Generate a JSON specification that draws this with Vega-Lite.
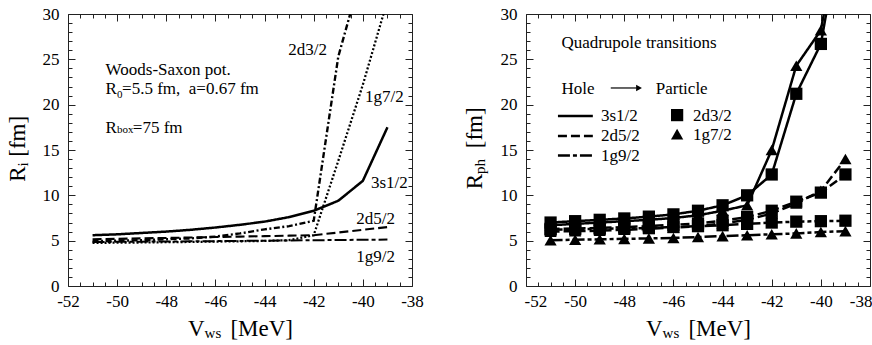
{
"$schema":"https://vega.github.io/schema/vega-lite/v6.json",
"padding":{"left":7,"top":5,"right":12,"bottom":0},
"spacing":39,
"config":{
 "view":{"stroke":null},
 "font":"Liberation Serif, Times New Roman, Times, serif",
 "axis":{"labelFont":"Liberation Serif, Times New Roman, Times, serif","labelFontSize":17,"labelColor":"black","domainColor":"#222","tickColor":"#222","domainWidth":1,"tickWidth":1,"grid":false},
 "text":{"font":"Liberation Serif, Times New Roman, Times, serif","color":"black"}
},
"datasets":{
 "L":[
  {"x":-51,"y":5.6,"s":"3s1/2"},{"x":-50,"y":5.7,"s":"3s1/2"},{"x":-49,"y":5.85,"s":"3s1/2"},{"x":-48,"y":6.0,"s":"3s1/2"},{"x":-47,"y":6.2,"s":"3s1/2"},{"x":-46,"y":6.45,"s":"3s1/2"},{"x":-45,"y":6.75,"s":"3s1/2"},{"x":-44,"y":7.1,"s":"3s1/2"},{"x":-43,"y":7.6,"s":"3s1/2"},{"x":-42,"y":8.3,"s":"3s1/2"},{"x":-41,"y":9.4,"s":"3s1/2"},{"x":-40,"y":11.6,"s":"3s1/2"},{"x":-39,"y":17.5,"s":"3s1/2"},
  {"x":-51,"y":4.95,"s":"2d3/2"},{"x":-50,"y":5.0,"s":"2d3/2"},{"x":-49,"y":5.05,"s":"2d3/2"},{"x":-48,"y":5.15,"s":"2d3/2"},{"x":-47,"y":5.25,"s":"2d3/2"},{"x":-46,"y":5.45,"s":"2d3/2"},{"x":-45,"y":5.8,"s":"2d3/2"},{"x":-44,"y":6.25,"s":"2d3/2"},{"x":-43,"y":6.6,"s":"2d3/2"},{"x":-42,"y":7.2,"s":"2d3/2"},{"x":-41,"y":25.3,"s":"2d3/2"},{"x":-40,"y":35,"s":"2d3/2"},
  {"x":-51,"y":4.75,"s":"1g7/2"},{"x":-50,"y":4.78,"s":"1g7/2"},{"x":-49,"y":4.8,"s":"1g7/2"},{"x":-48,"y":4.83,"s":"1g7/2"},{"x":-47,"y":4.86,"s":"1g7/2"},{"x":-46,"y":4.9,"s":"1g7/2"},{"x":-45,"y":4.93,"s":"1g7/2"},{"x":-44,"y":4.97,"s":"1g7/2"},{"x":-43,"y":5.05,"s":"1g7/2"},{"x":-42,"y":5.6,"s":"1g7/2"},{"x":-41,"y":13.8,"s":"1g7/2"},{"x":-40,"y":22.2,"s":"1g7/2"},{"x":-39,"y":31.5,"s":"1g7/2"},
  {"x":-51,"y":5.15,"s":"2d5/2"},{"x":-50,"y":5.2,"s":"2d5/2"},{"x":-49,"y":5.25,"s":"2d5/2"},{"x":-48,"y":5.3,"s":"2d5/2"},{"x":-47,"y":5.35,"s":"2d5/2"},{"x":-46,"y":5.4,"s":"2d5/2"},{"x":-45,"y":5.45,"s":"2d5/2"},{"x":-44,"y":5.5,"s":"2d5/2"},{"x":-43,"y":5.55,"s":"2d5/2"},{"x":-42,"y":5.6,"s":"2d5/2"},{"x":-41,"y":5.9,"s":"2d5/2"},{"x":-40,"y":6.2,"s":"2d5/2"},{"x":-39,"y":6.5,"s":"2d5/2"},
  {"x":-51,"y":4.85,"s":"1g9/2"},{"x":-50,"y":4.87,"s":"1g9/2"},{"x":-49,"y":4.89,"s":"1g9/2"},{"x":-48,"y":4.91,"s":"1g9/2"},{"x":-47,"y":4.93,"s":"1g9/2"},{"x":-46,"y":4.95,"s":"1g9/2"},{"x":-45,"y":4.97,"s":"1g9/2"},{"x":-44,"y":5.0,"s":"1g9/2"},{"x":-43,"y":5.02,"s":"1g9/2"},{"x":-42,"y":5.05,"s":"1g9/2"},{"x":-41,"y":5.07,"s":"1g9/2"},{"x":-40,"y":5.1,"s":"1g9/2"},{"x":-39,"y":5.12,"s":"1g9/2"}
 ],
 "R":[
  {"x":-51,"y":7.0,"h":"3s1/2","p":"2d3/2"},{"x":-50,"y":7.15,"h":"3s1/2","p":"2d3/2"},{"x":-49,"y":7.3,"h":"3s1/2","p":"2d3/2"},{"x":-48,"y":7.45,"h":"3s1/2","p":"2d3/2"},{"x":-47,"y":7.65,"h":"3s1/2","p":"2d3/2"},{"x":-46,"y":7.9,"h":"3s1/2","p":"2d3/2"},{"x":-45,"y":8.3,"h":"3s1/2","p":"2d3/2"},{"x":-44,"y":8.9,"h":"3s1/2","p":"2d3/2"},{"x":-43,"y":10.0,"h":"3s1/2","p":"2d3/2"},{"x":-42,"y":12.3,"h":"3s1/2","p":"2d3/2"},{"x":-41,"y":21.2,"h":"3s1/2","p":"2d3/2"},{"x":-40,"y":26.7,"h":"3s1/2","p":"2d3/2"},{"x":-39,"y":42,"h":"3s1/2","p":"2d3/2"},
  {"x":-51,"y":6.7,"h":"3s1/2","p":"1g7/2"},{"x":-50,"y":6.85,"h":"3s1/2","p":"1g7/2"},{"x":-49,"y":7.0,"h":"3s1/2","p":"1g7/2"},{"x":-48,"y":7.15,"h":"3s1/2","p":"1g7/2"},{"x":-47,"y":7.3,"h":"3s1/2","p":"1g7/2"},{"x":-46,"y":7.5,"h":"3s1/2","p":"1g7/2"},{"x":-45,"y":7.8,"h":"3s1/2","p":"1g7/2"},{"x":-44,"y":8.3,"h":"3s1/2","p":"1g7/2"},{"x":-43,"y":8.9,"h":"3s1/2","p":"1g7/2"},{"x":-42,"y":15.0,"h":"3s1/2","p":"1g7/2"},{"x":-41,"y":24.3,"h":"3s1/2","p":"1g7/2"},{"x":-40,"y":28.2,"h":"3s1/2","p":"1g7/2"},{"x":-39,"y":43,"h":"3s1/2","p":"1g7/2"},
  {"x":-51,"y":6.3,"h":"2d5/2","p":"2d3/2"},{"x":-50,"y":6.35,"h":"2d5/2","p":"2d3/2"},{"x":-49,"y":6.4,"h":"2d5/2","p":"2d3/2"},{"x":-48,"y":6.5,"h":"2d5/2","p":"2d3/2"},{"x":-47,"y":6.6,"h":"2d5/2","p":"2d3/2"},{"x":-46,"y":6.75,"h":"2d5/2","p":"2d3/2"},{"x":-45,"y":6.9,"h":"2d5/2","p":"2d3/2"},{"x":-44,"y":7.2,"h":"2d5/2","p":"2d3/2"},{"x":-43,"y":7.6,"h":"2d5/2","p":"2d3/2"},{"x":-42,"y":8.3,"h":"2d5/2","p":"2d3/2"},{"x":-41,"y":9.3,"h":"2d5/2","p":"2d3/2"},{"x":-40,"y":10.3,"h":"2d5/2","p":"2d3/2"},{"x":-39,"y":12.3,"h":"2d5/2","p":"2d3/2"},
  {"x":-51,"y":6.0,"h":"2d5/2","p":"1g7/2"},{"x":-50,"y":6.05,"h":"2d5/2","p":"1g7/2"},{"x":-49,"y":6.1,"h":"2d5/2","p":"1g7/2"},{"x":-48,"y":6.2,"h":"2d5/2","p":"1g7/2"},{"x":-47,"y":6.3,"h":"2d5/2","p":"1g7/2"},{"x":-46,"y":6.45,"h":"2d5/2","p":"1g7/2"},{"x":-45,"y":6.6,"h":"2d5/2","p":"1g7/2"},{"x":-44,"y":6.9,"h":"2d5/2","p":"1g7/2"},{"x":-43,"y":7.3,"h":"2d5/2","p":"1g7/2"},{"x":-42,"y":8.0,"h":"2d5/2","p":"1g7/2"},{"x":-41,"y":9.1,"h":"2d5/2","p":"1g7/2"},{"x":-40,"y":10.5,"h":"2d5/2","p":"1g7/2"},{"x":-39,"y":14.0,"h":"2d5/2","p":"1g7/2"},
  {"x":-51,"y":6.2,"h":"1g9/2","p":"2d3/2"},{"x":-50,"y":6.25,"h":"1g9/2","p":"2d3/2"},{"x":-49,"y":6.3,"h":"1g9/2","p":"2d3/2"},{"x":-48,"y":6.35,"h":"1g9/2","p":"2d3/2"},{"x":-47,"y":6.4,"h":"1g9/2","p":"2d3/2"},{"x":-46,"y":6.5,"h":"1g9/2","p":"2d3/2"},{"x":-45,"y":6.6,"h":"1g9/2","p":"2d3/2"},{"x":-44,"y":6.7,"h":"1g9/2","p":"2d3/2"},{"x":-43,"y":6.85,"h":"1g9/2","p":"2d3/2"},{"x":-42,"y":7.0,"h":"1g9/2","p":"2d3/2"},{"x":-41,"y":7.1,"h":"1g9/2","p":"2d3/2"},{"x":-40,"y":7.15,"h":"1g9/2","p":"2d3/2"},{"x":-39,"y":7.2,"h":"1g9/2","p":"2d3/2"},
  {"x":-51,"y":5.05,"h":"1g9/2","p":"1g7/2"},{"x":-50,"y":5.1,"h":"1g9/2","p":"1g7/2"},{"x":-49,"y":5.15,"h":"1g9/2","p":"1g7/2"},{"x":-48,"y":5.2,"h":"1g9/2","p":"1g7/2"},{"x":-47,"y":5.25,"h":"1g9/2","p":"1g7/2"},{"x":-46,"y":5.3,"h":"1g9/2","p":"1g7/2"},{"x":-45,"y":5.4,"h":"1g9/2","p":"1g7/2"},{"x":-44,"y":5.5,"h":"1g9/2","p":"1g7/2"},{"x":-43,"y":5.6,"h":"1g9/2","p":"1g7/2"},{"x":-42,"y":5.7,"h":"1g9/2","p":"1g7/2"},{"x":-41,"y":5.8,"h":"1g9/2","p":"1g7/2"},{"x":-40,"y":5.95,"h":"1g9/2","p":"1g7/2"},{"x":-39,"y":6.05,"h":"1g9/2","p":"1g7/2"}
 ],
 "Llab":[{"x":-42.25,"y":26.05,"t":"2d3/2"},{"x":-39.12,"y":20.84,"t":"1g7/2"},{"x":-38.92,"y":11.36,"t":"3s1/2"},{"x":-39.48,"y":7.39,"t":"2d5/2"},{"x":-39.48,"y":3.23,"t":"1g9/2"}],
 "Lnote":[{"x":-50.47,"y":23.24,"t":"Woods-Saxon pot."},{"x":-50.47,"y":21.13,"t":"R"},{"x":-49.8,"y":21.13,"t":"=5.5 fm,\u00a0 a=0.67 fm"},{"x":-50.47,"y":16.92,"t":"R"},{"x":-49.36,"y":16.92,"t":"=75 fm"}],
 "Lsub":[{"x":-50.01,"y":20.75,"t":"0"},{"x":-50.01,"y":16.85,"t":"box"}],
 "Xbig":[{"x":-47.12,"y":-5.55,"t":"V"},{"x":-45.39,"y":-5.55,"t":"[MeV]"}],
 "Xsub":[{"x":-46.44,"y":-5.77,"t":"ws"}],
 "LYbig":[{"x":-53.75,"y":11.5,"t":"R"},{"x":-53.75,"y":14.26,"t":"[fm]"}],
 "LYsub":[{"x":-53.63,"y":13.19,"t":"i"}],
 "RYbig":[{"x":-53.8,"y":10.66,"t":"R"},{"x":-53.8,"y":15.19,"t":"[fm]"}],
 "RYsub":[{"x":-53.67,"y":12.35,"t":"ph"}],
 "Rnote":[{"x":-50.56,"y":26.27,"t":"Quadrupole transitions"},{"x":-50.56,"y":21.2,"t":"Hole"},{"x":-46.72,"y":21.2,"t":"Particle"}],
 "Rleg":[{"x":-48.95,"y":18.72,"t":"3s1/2"},{"x":-48.95,"y":16.52,"t":"2d5/2"},{"x":-48.95,"y":14.39,"t":"1g9/2"},{"x":-45.2,"y":18.8,"t":"2d3/2"},{"x":-45.2,"y":16.7,"t":"1g7/2"}],
 "RlegLine":[{"x":-50.7,"x2":-49.28,"y":18.75,"h":"3s1/2"},{"x":-50.7,"x2":-49.28,"y":16.54,"h":"2d5/2"},{"x":-50.7,"x2":-49.28,"y":14.39,"h":"1g9/2"}],
 "RlegPt":[{"x":-45.85,"y":18.85,"p":"2d3/2"},{"x":-45.85,"y":16.75,"p":"1g7/2"}],
 "Arrow":[{"x":-48.55,"x2":-47.5,"y":21.84}],
 "ArrowHead":[{"x":-47.4,"y":21.84}]
},
"hconcat":[
 {
  "width":344,"height":272,
  "resolve":{"axis":{"x":"independent","y":"independent"}},
  "layer":[
   {"data":{"name":"L"},"mark":{"type":"line","clip":true,"color":"black"},
    "encoding":{
     "x":{"field":"x","type":"quantitative","scale":{"domain":[-52,-38],"nice":false,"zero":false},
      "axis":{"orient":"bottom","title":null,"values":[-52,-51.5,-51,-50.5,-50,-49.5,-49,-48.5,-48,-47.5,-47,-46.5,-46,-45.5,-45,-44.5,-44,-43.5,-43,-42.5,-42,-41.5,-41,-40.5,-40,-39.5,-39,-38.5,-38],"labelExpr":"datum.value % 2 == 0 ? '' + datum.value : ''","tickSize":{"condition":{"test":"datum.value % 2 == 0","value":-7},"value":-4},"labelPadding":14,"labelOverlap":false,"labelFlush":false,"labelBound":false}},
     "y":{"field":"y","type":"quantitative","scale":{"domain":[0,30],"nice":false,"zero":false},
      "axis":{"orient":"left","title":null,"values":[0,1,2,3,4,5,6,7,8,9,10,11,12,13,14,15,16,17,18,19,20,21,22,23,24,25,26,27,28,29,30],"labelExpr":"datum.value % 5 == 0 ? '' + datum.value : ''","tickSize":{"condition":{"test":"datum.value % 5 == 0","value":-7},"value":-4},"labelPadding":16,"labelOverlap":false,"labelFlush":false,"labelBound":false}},
     "detail":{"field":"s"},
     "strokeDash":{"field":"s","type":"nominal","scale":{"domain":["3s1/2","2d3/2","1g7/2","2d5/2","1g9/2"],"range":[[1,0],[6,2.5,2,2.5],[2,2],[9,4],[12,3,4,3]]},"legend":null},
     "strokeWidth":{"field":"s","type":"ordinal","scale":{"domain":["3s1/2","2d3/2","1g7/2","2d5/2","1g9/2"],"range":[2.5,2,2,2,2]},"legend":null}
    }},
   {"data":{"name":"Llab"},"mark":{"type":"text","fontSize":17,"align":"center","baseline":"middle"},
    "encoding":{
     "x":{"field":"x","type":"quantitative","scale":{"domain":[-52,-38],"nice":false,"zero":false},
      "axis":{"orient":"top","title":null,"labels":false,"values":[-52,-51.5,-51,-50.5,-50,-49.5,-49,-48.5,-48,-47.5,-47,-46.5,-46,-45.5,-45,-44.5,-44,-43.5,-43,-42.5,-42,-41.5,-41,-40.5,-40,-39.5,-39,-38.5,-38],"tickSize":{"condition":{"test":"datum.value % 2 == 0","value":-7},"value":-4}}},
     "y":{"field":"y","type":"quantitative","scale":{"domain":[0,30],"nice":false,"zero":false},
      "axis":{"orient":"right","title":null,"labels":false,"values":[0,1,2,3,4,5,6,7,8,9,10,11,12,13,14,15,16,17,18,19,20,21,22,23,24,25,26,27,28,29,30],"tickSize":{"condition":{"test":"datum.value % 5 == 0","value":-7},"value":-4}}},
     "text":{"field":"t"}
    }},
   {"data":{"name":"Lnote"},"mark":{"type":"text","fontSize":17,"align":"left","baseline":"alphabetic"},
    "encoding":{"x":{"field":"x","type":"quantitative","scale":{"domain":[-52,-38]},"axis":null},"y":{"field":"y","type":"quantitative","scale":{"domain":[0,30]},"axis":null},"text":{"field":"t"}}},
   {"data":{"name":"Lsub"},"mark":{"type":"text","fontSize":11,"align":"left","baseline":"alphabetic"},
    "encoding":{"x":{"field":"x","type":"quantitative","scale":{"domain":[-52,-38]},"axis":null},"y":{"field":"y","type":"quantitative","scale":{"domain":[0,30]},"axis":null},"text":{"field":"t"}}},
   {"data":{"name":"Xbig"},"mark":{"type":"text","fontSize":23,"align":"left","baseline":"alphabetic"},
    "encoding":{"x":{"field":"x","type":"quantitative","scale":{"domain":[-52,-38]},"axis":null},"y":{"field":"y","type":"quantitative","scale":{"domain":[0,30]},"axis":null},"text":{"field":"t"}}},
   {"data":{"name":"Xsub"},"mark":{"type":"text","fontSize":15,"align":"left","baseline":"alphabetic"},
    "encoding":{"x":{"field":"x","type":"quantitative","scale":{"domain":[-52,-38]},"axis":null},"y":{"field":"y","type":"quantitative","scale":{"domain":[0,30]},"axis":null},"text":{"field":"t"}}},
   {"data":{"name":"LYbig"},"mark":{"type":"text","fontSize":23,"align":"left","baseline":"alphabetic","angle":270},
    "encoding":{"x":{"field":"x","type":"quantitative","scale":{"domain":[-52,-38]},"axis":null},"y":{"field":"y","type":"quantitative","scale":{"domain":[0,30]},"axis":null},"text":{"field":"t"}}},
   {"data":{"name":"LYsub"},"mark":{"type":"text","fontSize":15,"align":"left","baseline":"alphabetic","angle":270},
    "encoding":{"x":{"field":"x","type":"quantitative","scale":{"domain":[-52,-38]},"axis":null},"y":{"field":"y","type":"quantitative","scale":{"domain":[0,30]},"axis":null},"text":{"field":"t"}}}
  ]
 },
 {
  "width":344,"height":272,
  "resolve":{"axis":{"x":"independent","y":"independent"}},
  "layer":[
   {"data":{"name":"R"},"mark":{"type":"line","clip":true,"color":"black","strokeWidth":2.5},
    "encoding":{
     "x":{"field":"x","type":"quantitative","scale":{"domain":[-52,-38],"nice":false,"zero":false},
      "axis":{"orient":"bottom","title":null,"values":[-52,-51.5,-51,-50.5,-50,-49.5,-49,-48.5,-48,-47.5,-47,-46.5,-46,-45.5,-45,-44.5,-44,-43.5,-43,-42.5,-42,-41.5,-41,-40.5,-40,-39.5,-39,-38.5,-38],"labelExpr":"datum.value % 2 == 0 ? '' + datum.value : ''","tickSize":{"condition":{"test":"datum.value % 2 == 0","value":-7},"value":-4},"labelPadding":14,"labelOverlap":false,"labelFlush":true,"labelFlushOffset":2,"labelBound":false}},
     "y":{"field":"y","type":"quantitative","scale":{"domain":[0,30],"nice":false,"zero":false},
      "axis":{"orient":"left","title":null,"values":[0,1,2,3,4,5,6,7,8,9,10,11,12,13,14,15,16,17,18,19,20,21,22,23,24,25,26,27,28,29,30],"labelExpr":"datum.value % 5 == 0 ? '' + datum.value : ''","tickSize":{"condition":{"test":"datum.value % 5 == 0","value":-7},"value":-4},"labelPadding":16,"labelOverlap":false,"labelFlush":false,"labelBound":false}},
     "detail":[{"field":"h"},{"field":"p"}],
     "strokeDash":{"field":"h","type":"nominal","scale":{"domain":["3s1/2","2d5/2","1g9/2"],"range":[[1,0],[7,4],[10,3,3,3]]},"legend":null}
    }},
   {"data":{"name":"R"},"mark":{"type":"point","filled":true,"clip":true,"color":"black","opacity":1,"size":150},
    "encoding":{
     "x":{"field":"x","type":"quantitative","scale":{"domain":[-52,-38],"nice":false,"zero":false},
      "axis":{"orient":"top","title":null,"labels":false,"values":[-52,-51.5,-51,-50.5,-50,-49.5,-49,-48.5,-48,-47.5,-47,-46.5,-46,-45.5,-45,-44.5,-44,-43.5,-43,-42.5,-42,-41.5,-41,-40.5,-40,-39.5,-39,-38.5,-38],"tickSize":{"condition":{"test":"datum.value % 2 == 0","value":-7},"value":-4}}},
     "y":{"field":"y","type":"quantitative","scale":{"domain":[0,30],"nice":false,"zero":false},
      "axis":{"orient":"right","title":null,"labels":false,"values":[0,1,2,3,4,5,6,7,8,9,10,11,12,13,14,15,16,17,18,19,20,21,22,23,24,25,26,27,28,29,30],"tickSize":{"condition":{"test":"datum.value % 5 == 0","value":-7},"value":-4}}},
     "shape":{"field":"p","type":"nominal","scale":{"domain":["2d3/2","1g7/2"],"range":["square","triangle-up"]},"legend":null}
    }},
   {"data":{"name":"RlegLine"},"mark":{"type":"rule","color":"black","strokeWidth":2.5},
    "encoding":{"x":{"field":"x","type":"quantitative","scale":{"domain":[-52,-38]},"axis":null},"x2":{"field":"x2"},"y":{"field":"y","type":"quantitative","scale":{"domain":[0,30]},"axis":null},
     "strokeDash":{"field":"h","type":"nominal","scale":{"domain":["3s1/2","2d5/2","1g9/2"],"range":[[1,0],[7,4],[10,3,3,3]]},"legend":null}}},
   {"data":{"name":"RlegPt"},"mark":{"type":"point","filled":true,"color":"black","opacity":1,"size":150},
    "encoding":{"x":{"field":"x","type":"quantitative","scale":{"domain":[-52,-38]},"axis":null},"y":{"field":"y","type":"quantitative","scale":{"domain":[0,30]},"axis":null},
     "shape":{"field":"p","type":"nominal","scale":{"domain":["2d3/2","1g7/2"],"range":["square","triangle-up"]},"legend":null}}},
   {"data":{"name":"Arrow"},"mark":{"type":"rule","color":"black","strokeWidth":1.2},
    "encoding":{"x":{"field":"x","type":"quantitative","scale":{"domain":[-52,-38]},"axis":null},"x2":{"field":"x2"},"y":{"field":"y","type":"quantitative","scale":{"domain":[0,30]},"axis":null}}},
   {"data":{"name":"ArrowHead"},"mark":{"type":"point","shape":"triangle-right","filled":true,"color":"black","opacity":1,"size":45},
    "encoding":{"x":{"field":"x","type":"quantitative","scale":{"domain":[-52,-38]},"axis":null},"y":{"field":"y","type":"quantitative","scale":{"domain":[0,30]},"axis":null}}},
   {"data":{"name":"Rnote"},"mark":{"type":"text","fontSize":17,"align":"left","baseline":"alphabetic"},
    "encoding":{"x":{"field":"x","type":"quantitative","scale":{"domain":[-52,-38]},"axis":null},"y":{"field":"y","type":"quantitative","scale":{"domain":[0,30]},"axis":null},"text":{"field":"t"}}},
   {"data":{"name":"Rleg"},"mark":{"type":"text","fontSize":17,"align":"left","baseline":"middle"},
    "encoding":{"x":{"field":"x","type":"quantitative","scale":{"domain":[-52,-38]},"axis":null},"y":{"field":"y","type":"quantitative","scale":{"domain":[0,30]},"axis":null},"text":{"field":"t"}}},
   {"data":{"name":"Xbig"},"mark":{"type":"text","fontSize":23,"align":"left","baseline":"alphabetic"},
    "encoding":{"x":{"field":"x","type":"quantitative","scale":{"domain":[-52,-38]},"axis":null},"y":{"field":"y","type":"quantitative","scale":{"domain":[0,30]},"axis":null},"text":{"field":"t"}}},
   {"data":{"name":"Xsub"},"mark":{"type":"text","fontSize":15,"align":"left","baseline":"alphabetic"},
    "encoding":{"x":{"field":"x","type":"quantitative","scale":{"domain":[-52,-38]},"axis":null},"y":{"field":"y","type":"quantitative","scale":{"domain":[0,30]},"axis":null},"text":{"field":"t"}}},
   {"data":{"name":"RYbig"},"mark":{"type":"text","fontSize":23,"align":"left","baseline":"alphabetic","angle":270},
    "encoding":{"x":{"field":"x","type":"quantitative","scale":{"domain":[-52,-38]},"axis":null},"y":{"field":"y","type":"quantitative","scale":{"domain":[0,30]},"axis":null},"text":{"field":"t"}}},
   {"data":{"name":"RYsub"},"mark":{"type":"text","fontSize":15,"align":"left","baseline":"alphabetic","angle":270},
    "encoding":{"x":{"field":"x","type":"quantitative","scale":{"domain":[-52,-38]},"axis":null},"y":{"field":"y","type":"quantitative","scale":{"domain":[0,30]},"axis":null},"text":{"field":"t"}}}
  ]
 }
]
}
